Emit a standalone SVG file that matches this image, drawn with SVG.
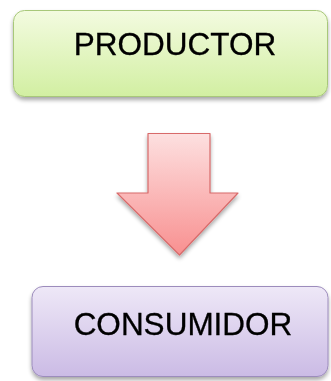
<svg xmlns="http://www.w3.org/2000/svg" width="331" height="381" viewBox="0 0 331 381">
<defs>
<linearGradient id="gGreen" x1="0" y1="0" x2="0" y2="1">
<stop offset="0" stop-color="#f3fbe0"/>
<stop offset="1" stop-color="#d2efa2"/>
</linearGradient>
<linearGradient id="gPurple" x1="0" y1="0" x2="0" y2="1">
<stop offset="0" stop-color="#eee8f7"/>
<stop offset="1" stop-color="#cbbbe5"/>
</linearGradient>
<linearGradient id="gRed" x1="0" y1="0" x2="0" y2="1">
<stop offset="0" stop-color="#fde0e0"/>
<stop offset="1" stop-color="#f89090"/>
</linearGradient>
<filter id="sh" x="-10%" y="-10%" width="120%" height="130%">
<feGaussianBlur in="SourceAlpha" stdDeviation="2"/>
<feOffset dx="0" dy="3" result="b"/>
<feComponentTransfer><feFuncA type="linear" slope="0.35"/></feComponentTransfer>
<feMerge><feMergeNode/><feMergeNode in="SourceGraphic"/></feMerge>
</filter>
</defs>
<style>
.lbl{font-family:"Liberation Sans",Arial,sans-serif;font-size:31.5px;fill:#000;stroke:#000;stroke-width:0.3;text-anchor:middle}
</style>
<rect width="331" height="381" fill="#ffffff"/>
<g id="productor" filter="url(#sh)">
<rect x="13.5" y="10.5" width="314" height="86" rx="11" fill="url(#gGreen)" stroke="#a8c87a" stroke-width="1"/>
<text class="lbl" x="175" y="55">PRODUCTOR</text>
</g>
<g id="connectors">
<path d="M148,133.5 L210,133.5 L210,193 L238,193 L179.5,255 L117,193 L148,193 Z" fill="url(#gRed)" stroke="#d86a6a" stroke-width="1.2" stroke-linejoin="round" filter="url(#sh)"/>
</g>
<g id="consumidor" filter="url(#sh)">
<rect x="32" y="286.5" width="296" height="90" rx="11" fill="url(#gPurple)" stroke="#9c8cbc" stroke-width="1"/>
<text class="lbl" x="183" y="335">CONSUMIDOR</text>
</g>
</svg>
